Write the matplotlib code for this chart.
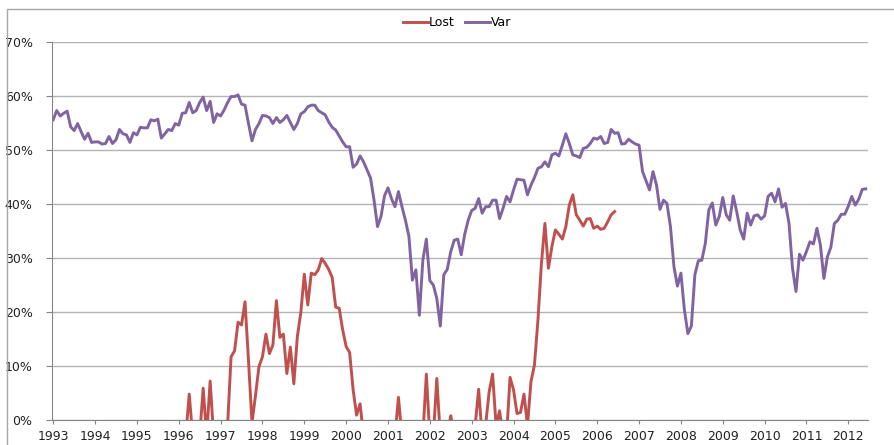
import matplotlib
matplotlib.use("Agg")
import matplotlib.pyplot as plt
from matplotlib.patches import Rectangle
import numpy as np

# monthly data, Jan 1993 onwards (values in %)
years = list(range(1993, 2013))

var = [
    55.6, 57.3, 56.3, 56.8, 57.2, 54.3, 53.6, 54.9, 53.4, 52.0, 53.1, 51.4,  # 1993
    51.5, 51.5, 51.1, 51.2, 52.5, 51.2, 51.9, 53.8, 53.0, 52.8, 51.4, 53.2,  # 1994
    52.8, 54.2, 54.1, 54.1, 55.6, 55.4, 55.7, 52.2, 53.0, 53.8, 53.6, 54.9,  # 1995
    54.6, 56.8, 56.9, 58.8, 56.9, 57.3, 58.8, 59.8, 57.3, 59.0, 55.1, 56.7,  # 1996
    56.3, 57.4, 58.8, 59.9, 59.9, 60.2, 58.5, 58.3, 54.9, 51.7, 53.8, 54.9,  # 1997
    56.4, 56.3, 56.0, 54.9, 56.0, 55.1, 55.6, 56.4, 55.1, 53.8, 54.9, 56.7,  # 1998
    57.1, 58.0, 58.3, 58.3, 57.3, 56.9, 56.5, 55.2, 54.2, 53.7, 52.6, 51.5,  # 1999
    50.6, 50.6, 46.8, 47.4, 48.9, 47.8, 46.3, 44.8, 40.7, 35.8, 37.7, 41.5,  # 2000
    43.0, 41.0, 39.5, 42.3, 39.5, 37.0, 34.0, 25.9, 27.8, 19.4, 29.6, 33.5,  # 2001
    25.8, 25.0, 22.5, 17.4, 26.9, 27.9, 31.2, 33.3, 33.5, 30.6, 34.4, 37.0,  # 2002
    38.8, 39.2, 41.0, 38.3, 39.5, 39.5, 40.7, 40.7, 37.3, 39.2, 41.4, 40.4,  # 2003
    42.6, 44.6, 44.5, 44.4, 41.7, 43.5, 44.9, 46.6, 46.9, 47.8, 46.9, 49.1,  # 2004
    49.4, 48.9, 50.9, 53.0, 51.2, 49.1, 48.9, 48.6, 50.3, 50.5, 51.2, 52.2,  # 2005
    52.0, 52.5, 51.2, 51.4, 53.8, 53.1, 53.2, 51.1, 51.2, 52.0, 51.5, 51.1,  # 2006
    50.9, 46.0, 44.3, 42.6, 46.0, 43.5, 39.0, 40.7, 40.1, 35.8, 28.4, 24.8,  # 2007
    27.2, 20.4, 16.0, 17.4, 26.9, 29.5, 29.6, 32.7, 38.9, 40.2, 36.1, 37.7,  # 2008
    41.2, 38.0, 37.0, 41.5, 38.6, 35.2, 33.5, 38.3, 36.1, 37.8, 38.0, 37.2,  # 2009
    37.8, 41.4, 42.0, 40.4, 42.8, 39.4, 40.1, 36.4, 28.1, 23.8, 30.7, 29.6,  # 2010
    31.2, 33.0, 32.6, 35.5, 32.4, 26.2, 30.2, 32.0, 36.4, 37.0, 38.1, 38.1,  # 2011
    39.6, 41.4, 39.8, 40.9, 42.7, 42.8,                                      # 2012
]

# negative months fall below the 0% axis and are cut off
lost = [
    -3, -3, -3, -3, -3, -3, -3, -3, -3, -3, -3, -3,  # 1993
    -3, -3, -3, -3, -3, -3, -3, -3, -3, -3, -3, -3,  # 1994
    -3, -3, -3, -3, -3, -3, -3, -3, -3, -3, -3, -3,  # 1995
    -3, -3, -3, 4.8, -3, -3, -3, 5.9, -3, 7.2, -3, -3,  # 1996
    -3, -3, -1, 11.7, 12.8, 18.1, 17.6, 21.9, 11.0, -0.5, 4.5, 9.9,  # 1997
    11.7, 15.9, 12.3, 13.9, 22.1, 15.3, 15.9, 8.6, 13.5, 6.7, 15.4, 19.9,  # 1998
    27.0, 21.3, 27.2, 26.9, 27.8, 29.9, 29.0, 27.9, 26.4, 20.9, 20.7, 16.7,  # 1999
    13.6, 12.5, 5.6, 0.9, 3.0, -3, -3, -3, -3, -3, -3, -3,  # 2000
    -3, -3, -3, 4.2, -3, -3, -3, -3, -3, -3, -3, 8.5,  # 2001
    -3, -3, 7.7, -3, -3, -3, 0.8, -3, -3, -3, -3, -3,  # 2002
    -3, -1, 5.7, -3, -1, 5.2, 8.5, -1, 1.7, -3, -3, 7.9,  # 2003
    5.6, 1.2, 1.4, 4.8, -1, 7.1, 10.2, 18.5, 29.0, 36.4, 28.1, 32.1,  # 2004
    35.2, 34.4, 33.5, 35.8, 39.8, 41.7, 38.0, 37.0, 35.9, 37.2, 37.3, 35.5,  # 2005
    35.9, 35.3, 35.5, 36.7, 38.0, 38.6,  # 2006
]

fig = plt.figure(figsize=(8.94, 4.45), dpi=100)
ax = fig.add_axes([52/894, 1-420/445, 816/894, 378/445])

ax.plot(np.arange(len(lost)), lost, color="#C0504D", lw=2.1, label="Lost")
ax.plot(np.arange(len(var)), var, color="#8064A2", lw=2.1, label="Var")

ax.set_ylim(0, 70)
ax.set_xlim(-0.35, 233.65)
ax.set_yticks(range(0, 71, 10))
ax.set_yticklabels([f"{v}%" for v in range(0, 71, 10)])
ax.set_xticks([12*i for i in range(len(years))])
ax.set_xticklabels([str(y) for y in years])

ax.grid(axis="y", color="#b4b4b4", lw=1)
ax.set_axisbelow(True)
for s in ["top", "right"]:
    ax.spines[s].set_visible(False)
for s in ["left", "bottom"]:
    ax.spines[s].set_color("#868686")
ax.tick_params(axis="both", colors="#868686", labelcolor="#222222", labelsize=9)
ax.tick_params(axis="y", length=4, pad=10)
ax.tick_params(axis="x", length=3, pad=4)

fig.legend(loc="center", bbox_to_anchor=(0.511, 0.949), ncol=2, frameon=False,
           fontsize=9, handlelength=2.0, handletextpad=0.1, columnspacing=0.8)

# outer chart border
fig.patches.append(Rectangle((7/894, -0.1), 1.0, 1.1 - 9/445, transform=fig.transFigure,
                             fill=False, edgecolor="#a6a6a6", lw=1))

fig.savefig("out.png", dpi=100)
